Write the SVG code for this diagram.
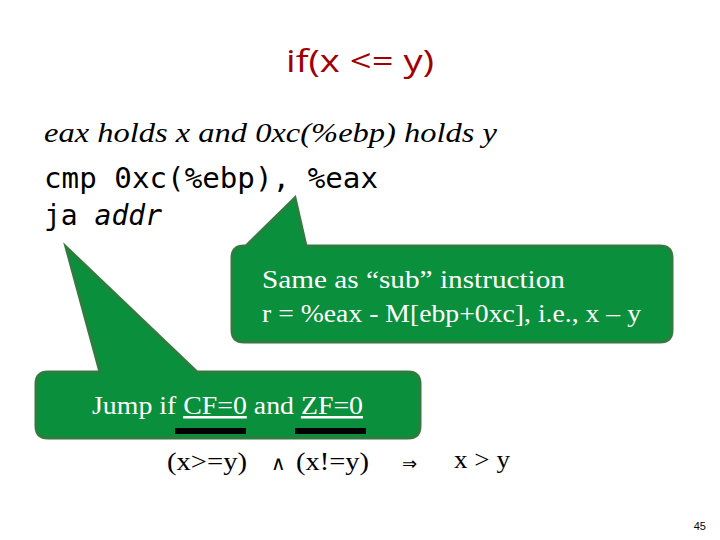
<svg xmlns="http://www.w3.org/2000/svg" width="720" height="540" viewBox="0 0 720 540">
<style>
.call{fill:#0a8f3c;stroke:#2e7d3e;stroke-width:3}
.wt{font-family:"Liberation Serif",serif;font-size:25px;fill:#fff}
.mono{font-family:"DejaVu Sans Mono",monospace;font-size:28px;fill:#000}
.m{font-family:"Liberation Serif",serif;font-size:25px}
</style>
<rect width="720" height="540" fill="#fff"/>
<text x="360" y="72" text-anchor="middle" font-family="Open Sans,sans-serif" font-size="31" textLength="148" lengthAdjust="spacingAndGlyphs" fill="#a00000">if(x &lt;= y)</text>
<text x="44" y="142" font-family="Liberation Serif,serif" font-style="italic" font-size="27" textLength="453" lengthAdjust="spacingAndGlyphs">eax holds x and 0xc(%ebp) holds y</text>
<text x="44" y="188" class="mono" textLength="334" lengthAdjust="spacingAndGlyphs">cmp 0xc(%ebp), %eax</text>
<text x="44" y="225" class="mono">ja <tspan font-style="italic">addr</tspan></text>
<g id="callout1">
<path class="call" d="M246,246 L295,198 L306,246 L660,246 Q672,246 672,258 L672,330 Q672,342 660,342 L244,342 Q232,342 232,330 L232,258 Q232,246 244,246 Z"/>
<text class="wt" x="262" y="288" textLength="303" lengthAdjust="spacingAndGlyphs">Same as “sub” instruction</text>
<text class="wt" x="262" y="322" textLength="379" lengthAdjust="spacingAndGlyphs">r = %eax - M[ebp+0xc], i.e., x – y</text>
</g>
<g id="callout2">
<path class="call" d="M48,372 L100,372 L66,247 L197,372 L408,372 Q420,372 420,384 L420,426 Q420,438 408,438 L48,438 Q36,438 36,426 L36,384 Q36,372 48,372 Z"/>
<text class="wt" x="92" y="414" textLength="271" lengthAdjust="spacingAndGlyphs">Jump if <tspan text-decoration="underline">CF=0</tspan> and <tspan text-decoration="underline">ZF=0</tspan></text>
</g>
<g id="connectors">
<rect x="175" y="428" width="71" height="6" fill="#000"/>
<rect x="295" y="428" width="71" height="6" fill="#000"/>
</g>
<text x="167" y="470" class="m" textLength="80" lengthAdjust="spacingAndGlyphs">(x&gt;=y)</text>
<text x="271" y="470" font-family="DejaVu Sans,sans-serif" font-size="20">∧</text>
<text x="296" y="470" class="m" textLength="73" lengthAdjust="spacingAndGlyphs">(x!=y)</text>
<text x="402" y="470" font-family="DejaVu Sans,sans-serif" font-size="18">⇒</text>
<text x="454" y="468" class="m" textLength="56" lengthAdjust="spacingAndGlyphs">x &gt; y</text>
<text x="706" y="530" text-anchor="end" font-family="Liberation Sans,sans-serif" font-size="11">45</text>
</svg>
